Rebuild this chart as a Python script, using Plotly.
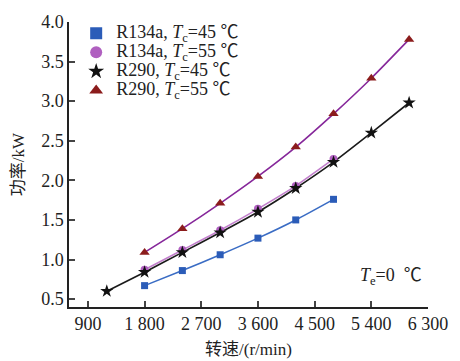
import plotly.graph_objects as go

# Data
x_r134a = [1800, 2400, 3000, 3600, 4200, 4800]
y_r134a_45 = [0.67, 0.86, 1.06, 1.27, 1.50, 1.76]
y_r134a_55 = [0.87, 1.12, 1.37, 1.64, 1.93, 2.27]
x_r290_45 = [1200, 1800, 2400, 3000, 3600, 4200, 4800, 5400, 6000]
y_r290_45 = [0.60, 0.84, 1.09, 1.34, 1.60, 1.90, 2.23, 2.60, 2.98]
x_r290_55 = [1800, 2400, 3000, 3600, 4200, 4800, 5400, 6000]
y_r290_55 = [1.09, 1.39, 1.71, 2.05, 2.42, 2.84, 3.29, 3.78]

x_ticks = [900, 1800, 2700, 3600, 4500, 5400, 6300]
x_ticktext = ["900", "1 800", "2 700", "3 600", "4 500", "5 400", "6 300"]
y_ticks = [0.5, 1.0, 1.5, 2.0, 2.5, 3.0, 3.5, 4.0]

FONT = "Liberation Serif, Times New Roman, Noto Sans CJK SC, serif"
FS = 18

def lg(txt):
    return '<span style="font-size:18px">' + txt + '</span>'

series = [
    ("R134a, <i>T</i><sub>c</sub>=45 ℃", x_r134a, y_r134a_45, "square", "#2b5cb8", "#3a6cc4", 7),
    ("R134a, <i>T</i><sub>c</sub>=55 ℃", x_r134a, y_r134a_55, "circle", "#b060c0", "#c27fcc", 8),
    ("R290, <i>T</i><sub>c</sub>=45 ℃", x_r290_45, y_r290_45, "star", "#111111", "#1a1a1a", 10),
    ("R290, <i>T</i><sub>c</sub>=55 ℃", x_r290_55, y_r290_55, "triangle-up", "#8b1c1c", "#86279a", 9),
]

fig = go.Figure()
for name, xs, ys, sym, mcol, lcol, ms in series:
    fig.add_trace(go.Scatter(x=xs, y=ys, mode="lines", line=dict(color=lcol, width=1.6, shape="spline", smoothing=0.6),
                             showlegend=False, hoverinfo="skip"))
for name, xs, ys, sym, mcol, lcol, ms in series:
    fig.add_trace(go.Scatter(x=xs, y=ys, mode="markers", name=lg(name),
                             marker=dict(symbol=sym, color=mcol, size=ms, line=dict(width=0))))

fig.add_annotation(x=5720, y=0.78, xref="x", yref="y", text="<i>T</i><sub>e</sub>=0  ℃",
                   showarrow=False, font=dict(family=FONT, size=FS, color="#222"))
fig.add_annotation(x=0.5, y=-0.148, xref="paper", yref="paper", text="转速/(r/min)",
                   showarrow=False, yanchor="middle", xanchor="center",
                   font=dict(family=FONT, size=17, color="#222"))

fig.update_layout(
    width=460, height=361,
    margin=dict(l=69, r=25, t=16, b=54),
    paper_bgcolor="white", plot_bgcolor="white",
    font=dict(family=FONT, size=FS, color="#222"),
    showlegend=True,
    legend=dict(x=0.02, y=1.012, xanchor="left", yanchor="top", bgcolor="rgba(0,0,0,0)",
                font=dict(family=FONT, size=12.4), tracegroupgap=0, itemsizing="constant"),
    xaxis=dict(range=[600, 6300], tickvals=x_ticks, ticktext=x_ticktext, ticks="inside", ticklen=6,
               tickwidth=1.5, showline=True, linecolor="#222", linewidth=1.5, showgrid=False, zeroline=False,
               tickfont=dict(size=FS)),
    yaxis=dict(range=[0.4, 4.0], tickvals=y_ticks, tickformat=".1f", ticks="inside", ticklen=6,
               tickwidth=1.5, showline=True, linecolor="#222", linewidth=1.5, showgrid=False, zeroline=False,
               tickfont=dict(size=FS),
               title=dict(text="功率/kW", standoff=12, font=dict(family=FONT, size=17))),
)

fig.write_html("out.html")
